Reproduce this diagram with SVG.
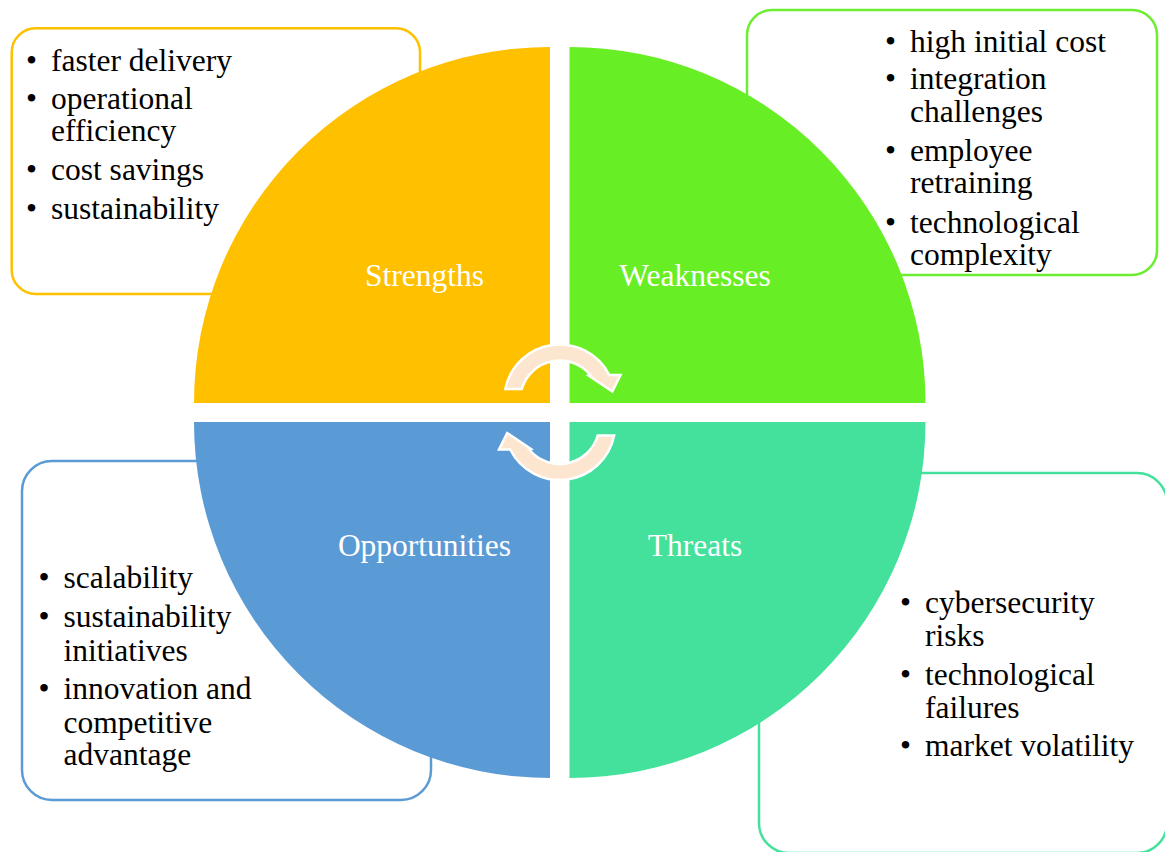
<svg xmlns="http://www.w3.org/2000/svg" width="1165" height="852" viewBox="0 0 1165 852">
<style>
.box{fill:#fff;stroke-width:2.5}
text{font-family:"Liberation Serif","Times New Roman",serif}
.t{font-size:31.5px;fill:#000}
.lbl{font-size:31.5px;fill:#fff;text-anchor:middle}
.arr{fill:#FDE6D0;stroke:#fff;stroke-width:2.5;stroke-linejoin:miter}
</style>
<rect width="1165" height="852" fill="#fff"/>
<g id="box-strengths">
<rect class="box" x="11.7" y="28.3" width="408.3" height="265.7" rx="24" stroke="#FFC000"/>
<text class="t" x="26" y="70.7">•</text><text class="t" x="51" y="70.7">faster delivery</text>
<text class="t" x="26" y="109.3">•</text><text class="t" x="51" y="109.3">operational</text>
<text class="t" x="51" y="140.7">efficiency</text>
<text class="t" x="26" y="180">•</text><text class="t" x="51" y="180">cost savings</text>
<text class="t" x="26" y="219.3">•</text><text class="t" x="51" y="219.3">sustainability</text>
</g>
<g id="box-weaknesses">
<rect class="box" x="747" y="10" width="410" height="265" rx="25" stroke="#6CEE30"/>
<text class="t" x="885" y="51.7">•</text><text class="t" x="910" y="51.7">high initial cost</text>
<text class="t" x="885" y="89.3">•</text><text class="t" x="910" y="89.3">integration</text>
<text class="t" x="910" y="121.7">challenges</text>
<text class="t" x="885" y="161">•</text><text class="t" x="910" y="161">employee</text>
<text class="t" x="910" y="193.3">retraining</text>
<text class="t" x="885" y="233.3">•</text><text class="t" x="910" y="233.3">technological</text>
<text class="t" x="910" y="265">complexity</text>
</g>
<g id="box-opportunities">
<rect class="box" x="22" y="461" width="409" height="339" rx="30" stroke="#5B9BD5"/>
<text class="t" x="38.5" y="588.3">•</text><text class="t" x="63.5" y="588.3">scalability</text>
<text class="t" x="38.5" y="626.7">•</text><text class="t" x="63.5" y="626.7">sustainability</text>
<text class="t" x="63.5" y="660.7">initiatives</text>
<text class="t" x="38.5" y="699.3">•</text><text class="t" x="63.5" y="699.3">innovation and</text>
<text class="t" x="63.5" y="732.7">competitive</text>
<text class="t" x="63.5" y="765">advantage</text>
</g>
<g id="box-threats">
<rect class="box" x="759" y="473" width="408" height="380" rx="30" stroke="#43E19B"/>
<text class="t" x="900" y="613.3">•</text><text class="t" x="925" y="613.3">cybersecurity</text>
<text class="t" x="925" y="645.7">risks</text>
<text class="t" x="900" y="685">•</text><text class="t" x="925" y="685">technological</text>
<text class="t" x="925" y="718.3">failures</text>
<text class="t" x="900" y="756">•</text><text class="t" x="925" y="756">market volatility</text>
</g>
<g id="strengths">
<path d="M550,403 L194,403 A356,356 0 0 1 550,47 Z" fill="#FFC000"/>
<text class="lbl" x="424.5" y="286">Strengths</text>
</g>
<g id="weaknesses">
<path d="M569.5,403 L569.5,47 A356,356 0 0 1 925.5,403 Z" fill="#68EE24"/>
<text class="lbl" x="695" y="286">Weaknesses</text>
</g>
<g id="opportunities">
<path d="M550,422 L550,778 A356,356 0 0 1 194,422 Z" fill="#5B9BD5"/>
<text class="lbl" x="424.5" y="556">Opportunities</text>
</g>
<g id="threats">
<path d="M569.5,422 L925.5,422 A356,356 0 0 1 569.5,778 Z" fill="#43E19B"/>
<text class="lbl" x="695" y="556">Threats</text>
</g>
<g id="connectors">
<path id="arrow-top" class="arr" d="M505.35,389 A55.5,55.5 0 0 1 609.3,375 L620.5,375 L612.3,391.5 L588.5,375.5 L590.3,375 A39.5,39.5 0 0 0 521.8,389 Z"/>
<use href="#arrow-top" transform="rotate(180 559.75 412.25)"/>
</g>
</svg>
